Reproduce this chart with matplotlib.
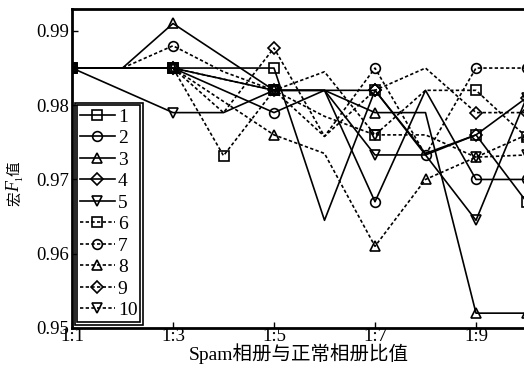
import matplotlib
matplotlib.use("Agg")
import matplotlib.pyplot as plt
import matplotlib.patches as mpatches

plt.rcParams['font.family'] = ['Liberation Serif', 'Noto Sans CJK SC', 'DejaVu Sans']

# --- data (x = 1:1 ... 1:10) ---
x = [1, 2, 3, 4, 5, 6, 7, 8, 9, 10]
xtick_pos = [1, 3, 5, 7, 9]
xtick_labels = ["1:1", "1:3", "1:5", "1:7", "1:9"]
yticks = [0.95, 0.96, 0.97, 0.98, 0.99]

s1 = [0.985, 0.985, 0.985, 0.985, 0.985, 0.9645, 0.982, 0.9735, 0.976, 0.967]
s2 = [0.985, 0.985, 0.985, 0.982, 0.979, 0.982, 0.967, 0.982, 0.970, 0.970]
s3 = [0.985, 0.985, 0.991, 0.9865, 0.982, 0.982, 0.979, 0.979, 0.952, 0.952]
s4 = [0.985, 0.985, 0.985, 0.9835, 0.982, 0.982, 0.982, 0.9733, 0.976, 0.981]
s5 = [0.985, 0.982, 0.979, 0.979, 0.982, 0.982, 0.9733, 0.9733, 0.9645, 0.981]
s6 = [0.985, 0.985, 0.985, 0.9732, 0.982, 0.9785, 0.976, 0.982, 0.982, 0.9757]
s7 = [0.985, 0.985, 0.988, 0.9845, 0.982, 0.9758, 0.985, 0.9733, 0.985, 0.985]
s8 = [0.985, 0.985, 0.985, 0.9805, 0.976, 0.9735, 0.961, 0.970, 0.973, 0.976]
s9 = [0.985, 0.985, 0.985, 0.979, 0.9877, 0.9758, 0.982, 0.985, 0.979, 0.979]
s10 = [0.985, 0.985, 0.985, 0.9835, 0.982, 0.9845, 0.976, 0.976, 0.973, 0.9733]

series = [s1, s2, s3, s4, s5, s6, s7, s8, s9, s10]
labels = ["1", "2", "3", "4", "5", "6", "7", "8", "9", "10"]
markers = ["s", "o", "^", "D", "v", "s", "o", "^", "D", "v"]
styles = ["-"] * 5 + [(0, (2, 1.4))] * 5
# marker positions (index) for each series
marks = [[0, 2, 4, 6, 8, 9]] * 10
marks[5] = [0, 2, 3, 4, 6, 8, 9]
marks[6] = [0, 2, 4, 6, 7, 8, 9]
marks[7] = [0, 2, 4, 6, 7, 8, 9]

fig = plt.figure(figsize=(5.24, 3.72), dpi=100)
ax = fig.add_axes([72 / 524, 44 / 372, 454.5 / 524, 319 / 372])

for s, lab, m, ls, me in zip(series, labels, markers, styles, marks):
    ms = 6.0 if m == "D" else 7.0
    ax.plot(x, s, color="black", linestyle=ls, linewidth=1.2, marker=m,
            markersize=ms, markerfacecolor="none", markeredgewidth=1.2,
            markevery=me, label=lab)

ax.set_xlim(1, 10)
ax.set_ylim(0.95, 0.99295)
ax.set_xticks(xtick_pos)
ax.set_xticklabels(xtick_labels)
ax.set_yticks(yticks)
ax.set_yticklabels(["0.95", "0.96", "0.97", "0.98", "0.99"])
ax.tick_params(direction="in", length=4, width=1, labelsize=13.5)
ax.tick_params(axis="x", pad=0)
ax.tick_params(axis="y", pad=2)
for sp in ax.spines.values():
    sp.set_linewidth(2)

ax.set_xlabel("Spam相册与正常相册比值", fontsize=14, labelpad=-1)

# y label: 宏 F_1 值 (rotated, built from pieces)
fig.text(15 / 524, 1 - 199 / 372, "宏", rotation=90, fontsize=10.5,
         family="Noto Sans CJK SC", ha="center", va="center")
fig.text(15 / 524, 1 - 186 / 372, "F", rotation=90, fontsize=13, style="italic",
         ha="center", va="center")
fig.text(20 / 524, 1 - 179 / 372, "1", rotation=90, fontsize=7,
         ha="center", va="center")
fig.text(15 / 524, 1 - 169 / 372, "值", rotation=90, fontsize=10.5,
         family="Noto Sans CJK SC", ha="center", va="center")

leg = ax.legend(loc="lower left", bbox_to_anchor=(5 / 454.5, 6 / 319), fontsize=14,
                handlelength=1.8, handletextpad=0.15, labelspacing=0.2,
                borderpad=0.15, borderaxespad=0, fancybox=False, framealpha=1)
leg.get_frame().set_edgecolor("black")
leg.get_frame().set_linewidth(1.2)

# second (outer) frame line around legend
fig.canvas.draw()
bb = leg.get_window_extent()
pad = 2.5
fig.patches.append(mpatches.Rectangle((bb.x0 - pad, bb.y0 - pad), bb.width + 2 * pad,
                                      bb.height + 2 * pad, transform=None,
                                      fill=False, edgecolor="black", linewidth=1.2))

fig.savefig("out.png", dpi=100)
